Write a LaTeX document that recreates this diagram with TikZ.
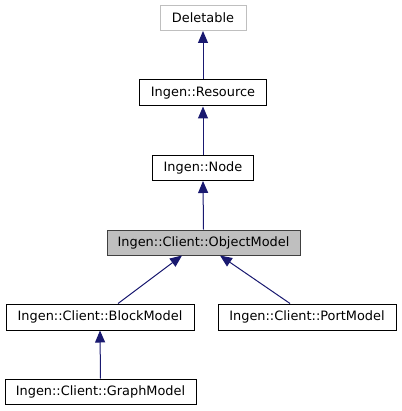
\documentclass[tikz,border=0pt]{standalone}
\usepackage{fontspec}
\setmainfont{DejaVu Sans}
\usetikzlibrary{arrows.meta}
\definecolor{edgeblue}{HTML}{191970}
\definecolor{lightframe}{HTML}{BFBFBF}
\definecolor{darkframe}{HTML}{404040}
\definecolor{hilite}{HTML}{BFBFBF}
\begin{document}
\begin{tikzpicture}[x=1pt,y=-1pt,
  cls/.style={draw=black,line width=1pt,rectangle,inner sep=0pt,font=\fontsize{12.9}{14}\selectfont},
  inh/.style={draw=edgeblue,line width=1pt,{Triangle[length=12pt,width=10pt,fill=edgeblue]}-}]
\useasboundingbox (0,0) rectangle (401,411);
\node[cls,draw=lightframe,minimum width=86pt,minimum height=25pt] (del) at (203,18) {Deletable};
\node[cls,minimum width=127pt,minimum height=26pt] (res) at (203,93) {Ingen::Resource};
\node[cls,minimum width=101pt,minimum height=25pt] (nod) at (203,168) {Ingen::Node};
\node[cls,draw=darkframe,fill=hilite,minimum width=193pt,minimum height=25pt] (om) at (203.5,242.5) {Ingen::Client::ObjectModel};
\node[cls,minimum width=188pt,minimum height=26pt] (bm) at (100,317) {Ingen::Client::BlockModel};
\node[cls,minimum width=178pt,minimum height=26pt] (pm) at (307,317) {Ingen::Client::PortModel};
\node[cls,minimum width=191pt,minimum height=25pt] (gm) at (100.5,391.5) {Ingen::Client::GraphModel};
\draw[inh] (del.south) -- (res.north);
\draw[inh] (res.south) -- (nod.north);
\draw[inh] (nod.south) -- (om.north);
\draw[inh] ([xshift=-21.5pt]om.south) -- ([xshift=18pt]bm.north);
\draw[inh] ([xshift=16.5pt]om.south) -- ([xshift=-17pt]pm.north);
\draw[inh] (bm.south) -- (gm.north);
\end{tikzpicture}
\end{document}
